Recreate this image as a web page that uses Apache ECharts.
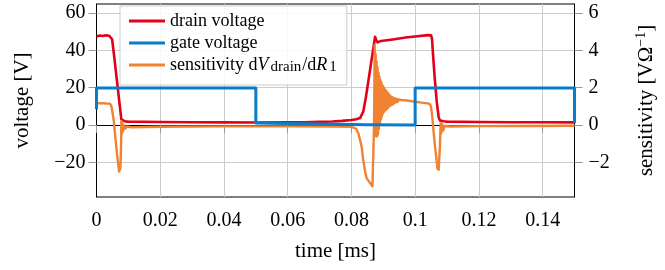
<!DOCTYPE html>
<html><head><meta charset="utf-8">
<script src="https://cdn.jsdelivr.net/npm/echarts@6/dist/echarts.min.js"></script>
<style>html,body{margin:0;padding:0;background:#fff}#c{width:665px;height:270px}</style>
</head><body><div id="c"></div>
<script>
// ---- tick values ----
const xTicks = [0, 0.02, 0.04, 0.06, 0.08, 0.1, 0.12, 0.14];
const voltTicks = [-20, 0, 20, 40, 60];
const sensTicks = [-2, 0, 2, 4, 6];

// ---- drain voltage [V] ----
const drainT = [0, 0.001, 0.002, 0.003, 0.004, 0.0046, 0.0049, 0.0055, 0.006, 0.0065, 0.007, 0.0075, 0.0078, 0.0082, 0.0090,
  0.01, 0.02, 0.03, 0.04, 0.05, 0.06, 0.065, 0.07, 0.074, 0.077, 0.08, 0.0815, 0.0827, 0.0837, 0.0845, 0.0852, 0.0863, 0.087, 0.0874,
  0.0878, 0.0882, 0.0888, 0.0893, 0.093, 0.097, 0.1, 0.104, 0.105, 0.1053, 0.1056, 0.1061, 0.1068, 0.1074, 0.1078, 0.109,
  0.11, 0.12, 0.13, 0.14, 0.15];
const drainV = [47.5, 48.0, 47.7, 48.1, 47.8, 47.8, 46.0, 37.5, 30.0, 22.5, 15.0, 7.5, 3.0, 2.1, 1.9,
  1.8, 1.6, 1.5, 1.4, 1.35, 1.4, 1.5, 1.7, 1.9, 2.2, 2.7, 3.1, 3.7, 7.1, 14.5, 22.3, 34.8, 42.5, 47.3,
  45.5, 44.3, 45.0, 45.1, 45.9, 46.9, 47.5, 48.2, 48.1, 46.0, 38.0, 26.0, 12.0, 4.0, 2.4, 2.0,
  1.8, 1.6, 1.5, 1.45, 1.4];

// ---- gate voltage [V] ----
const gateT = [0, 0, 0.05, 0.05, 0.07, 0.085, 0.1, 0.1, 0.15, 0.15];
const gateV = [8.4, 19.9, 19.9, 1.1, 0.6, 0.1, 0.0, 19.9, 19.9, 1.0];

// ---- sensitivity dV_drain/dR_1 [V/Ohm] ----
const sensT = [0, 0.002, 0.0035, 0.0042, 0.00467, 0.0054, 0.0057, 0.0064, 0.0071, 0.0073, 0.0075, 0.0077, 0.0078,
  0.0079, 0.0081, 0.0083, 0.0086, 0.009, 0.0095, 0.011, 0.02, 0.04, 0.06, 0.075, 0.08, 0.0815,
  0.0822, 0.0832, 0.0837, 0.0843, 0.0848, 0.0858, 0.0866, 0.0869, 0.0871, 0.0873,
  0.08745, 0.0876, 0.08775, 0.0879, 0.08805, 0.0882, 0.08835, 0.0885, 0.08865, 0.0888, 0.08895, 0.0891,
  0.08925, 0.0894, 0.08955, 0.0897, 0.08985, 0.09, 0.09015, 0.0903, 0.09045, 0.0906, 0.09075, 0.0909,
  0.09105, 0.0912, 0.09135, 0.0915, 0.09165, 0.0918, 0.09195, 0.0921, 0.09225, 0.0924, 0.09255, 0.0927,
  0.09285, 0.093, 0.09315, 0.0933, 0.09345, 0.0936, 0.09375, 0.0939, 0.09405, 0.0942, 0.09435, 0.0945,
  0.09465, 0.0948, 0.09495, 0.0951, 0.0953, 0.0956, 0.096, 0.098, 0.1, 0.102, 0.104, 0.1047, 0.105,
  0.1054, 0.1058, 0.1062, 0.1066, 0.107, 0.1072, 0.1074, 0.1078, 0.108, 0.1082, 0.1085, 0.1088, 0.1092,
  0.1098, 0.111, 0.12, 0.135, 0.15];
const sensV = [1.16, 1.17, 1.15, 1.15, 1.02, 0.27, -0.27, -1.5, -2.5, -2.6, -2.3, -1.2, 0.2,
  -0.5, 0.1, -0.35, -0.02, -0.2, -0.08, -0.12, -0.09, -0.07, -0.07, -0.08, -0.1, -0.2,
  -0.45, -1.16, -1.88, -2.5, -2.86, -3.1, -3.28, -3.3, 0.0, 4.3,
  0.0, 3.8, -0.6, 3.4, -0.6, 3.1, -0.5, 2.8, -0.2, 2.6, 0.1, 2.4,
  0.3, 2.3, 0.45, 2.15, 0.6, 2.05, 0.68, 1.97, 0.75, 1.9, 0.8, 1.83,
  0.85, 1.76, 0.9, 1.7, 0.95, 1.64, 1.0, 1.58, 1.04, 1.53, 1.07, 1.5,
  1.1, 1.47, 1.13, 1.45, 1.17, 1.43, 1.2, 1.41, 1.22, 1.4, 1.24, 1.38,
  1.26, 1.37, 1.27, 1.36, 1.29, 1.34, 1.31, 1.3, 1.25, 1.2, 1.16, 1.1, 0.95,
  0.4, -0.4, -1.1, -1.7, -2.35, -2.2, -2.4, -1.0, 0.1, -0.45, 0.05, -0.3, -0.05,
  -0.15, -0.08, -0.06, -0.05, -0.04];

const FONT = 'Liberation Serif';
const pairs = (t, v) => t.map((x, i) => [x, v[i]]);
const minus = v => (v < 0 ? '\u2212' : '') + Math.abs(v);

const chart = echarts.init(document.getElementById('c'), null, {renderer: 'canvas'});
chart.setOption({
  animation: false,
  backgroundColor: '#fff',
  textStyle: {fontFamily: FONT, color: '#000'},
  grid: {left: 96.5, top: 4, width: 481, height: 193, show: true, borderColor: '#000', borderWidth: 1, backgroundColor: 'transparent'},
  legend: {
    left: 120, top: 6, orient: 'vertical',
    padding: [5, 9, 10, 9], itemGap: 2, itemWidth: 36, itemHeight: 3, icon: 'rect',
    backgroundColor: 'rgba(255,255,255,0.85)', borderColor: '#cccccc', borderWidth: 1,
    data: ['drain voltage', 'gate voltage', 'sensitivity dVdrain/dR1'],
    formatter: n => n.startsWith('sensitivity')
      ? '{a|sensitivity d}{i|V}{s|drain}{a|/d}{i|R}{s|1}'
      : '{a|' + n + '}',
    textStyle: {
      fontFamily: FONT, fontSize: 18, lineHeight: 20, color: '#000',
      rich: {
        a: {fontFamily: FONT, fontSize: 18, lineHeight: 20, color: '#000'},
        i: {fontFamily: FONT, fontSize: 18, lineHeight: 20, fontStyle: 'italic', color: '#000', padding: [0, 1, 0, 0]},
        s: {fontFamily: FONT, fontSize: 15, lineHeight: 13, verticalAlign: 'bottom', color: '#000', padding: [0, 1, 0, 1]}
      }
    }
  },
  xAxis: {
    type: 'value', min: 0, max: 0.15,
    name: 'time [ms]', nameLocation: 'middle', nameGap: 44,
    nameTextStyle: {fontFamily: FONT, fontSize: 21, color: '#000'},
    axisLine: {show: true, lineStyle: {color: '#000', width: 1}},
    axisTick: {show: true, length: 8, customValues: xTicks, lineStyle: {color: '#999'}},
    axisLabel: {customValues: xTicks, margin: 14, fontFamily: FONT, fontSize: 20, color: '#000',
      formatter: v => String(+(+v).toFixed(4))},
    splitLine: {show: true, lineStyle: {color: '#cccccc', width: 1}}
  },
  yAxis: [{
    type: 'value', min: -38.6, max: 64.9, position: 'left',
    name: 'voltage [V]', nameLocation: 'middle', nameGap: 64,
    nameTextStyle: {fontFamily: FONT, fontSize: 21, color: '#000'},
    axisLine: {show: true, lineStyle: {color: '#000', width: 1}},
    axisTick: {show: true, length: 8, customValues: voltTicks, lineStyle: {color: '#999'}},
    axisLabel: {customValues: voltTicks, margin: 11, fontFamily: FONT, fontSize: 20, color: '#000', formatter: minus},
    splitLine: {show: true, lineStyle: {color: '#cccccc', width: 1}}
  }, {
    type: 'value', min: -3.86, max: 6.49, position: 'right',
    name: '{a|sensitivity [V\u03A9}{b|\u22121}{a|]}', nameLocation: 'middle', nameGap: 60,
    nameTextStyle: {fontFamily: FONT, fontSize: 21, color: '#000',
      rich: {
        a: {fontFamily: FONT, fontSize: 21, lineHeight: 24, color: '#000'},
        b: {fontFamily: FONT, fontSize: 14, lineHeight: 14, verticalAlign: 'top', color: '#000'}
      }},
    axisLine: {show: true, lineStyle: {color: '#000', width: 1}},
    axisTick: {show: true, length: 8, customValues: sensTicks, lineStyle: {color: '#999'}},
    axisLabel: {customValues: sensTicks, margin: 14, fontFamily: FONT, fontSize: 20, color: '#000', formatter: minus},
    splitLine: {show: false}
  }],
  series: [{
    name: 'drain voltage', type: 'line', yAxisIndex: 0, showSymbol: false, symbol: 'none',
    data: pairs(drainT, drainV), color: '#e2001a', lineStyle: {width: 2.6, color: '#e2001a', join: 'round'}
  }, {
    name: 'sensitivity dVdrain/dR1', type: 'line', yAxisIndex: 1, showSymbol: false, symbol: 'none',
    data: pairs(sensT, sensV), color: '#f08232', lineStyle: {width: 2.4, color: '#f08232', join: 'round'}
  }, {
    name: 'gate voltage', type: 'line', yAxisIndex: 0, showSymbol: false, symbol: 'none',
    data: pairs(gateT, gateV), color: '#0a7dc8', lineStyle: {width: 3, color: '#0a7dc8', join: 'round'}
  }]
});
</script></body></html>
